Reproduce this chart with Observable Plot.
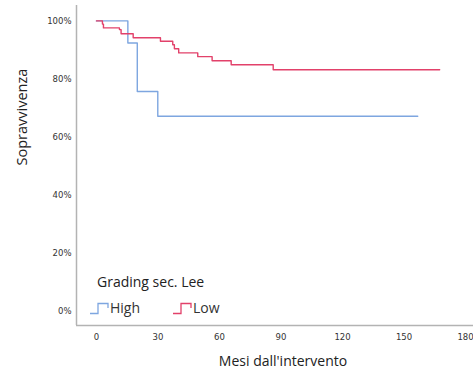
<!DOCTYPE html>
<html>
<head>
<meta charset="utf-8">
<script src="https://cdn.jsdelivr.net/npm/d3@7"></script>
<script src="https://cdn.jsdelivr.net/npm/@observablehq/plot@0.6"></script>
<style>
  html, body { margin: 0; padding: 0; background: #fff; }
  #wrap { position: relative; width: 473px; height: 379px; overflow: hidden; }
  #legend { position: absolute; left: 0; top: 0; font-family: "Open Sans", sans-serif; color: #222; }
</style>
</head>
<body>
<div id="wrap"></div>
<script>
// Data (months, survival fraction)
const highTimes = [0, 15.3, 19.9, 29.9, 156.7];
const highSurv  = [1, 0.924, 0.757, 0.672, 0.672];
const lowTimes  = [0, 2.9, 3.4, 11.2, 12.0, 17.9, 31.2, 37.2, 38.0, 40.1, 49.4, 56.4, 65.7, 86.2, 167.4];
const lowSurv   = [1, 0.989, 0.976, 0.970, 0.956, 0.942, 0.930, 0.918, 0.904, 0.890, 0.877, 0.863, 0.849, 0.832, 0.832];
const groups = ["High", "Low"];
const groupColors = ["#7ea6e0", "#e2416a"];
const xTicks = [0, 30, 60, 90, 120, 150, 180];
const yTicks = [0, 0.2, 0.4, 0.6, 0.8, 1.0];
const xDomain = [-9.75, 183.9];
const yDomain = [-0.048, 1.053];

const rows = [
  ...highTimes.map((t, i) => ({group: "High", t, s: highSurv[i]})),
  ...lowTimes.map((t, i) => ({group: "Low", t, s: lowSurv[i]}))
];

const chart = Plot.plot({
  width: 473,
  height: 379,
  marginLeft: 76,
  marginRight: 0,
  marginTop: 5,
  marginBottom: 54,
  style: {fontFamily: "'DejaVu Sans', sans-serif", fontSize: "8.5px", color: "#333", background: "#fff"},
  x: {domain: xDomain, ticks: xTicks, tickSize: 0, tickPadding: 8, label: null},
  y: {domain: yDomain, ticks: yTicks, tickSize: 0, tickPadding: 5, tickFormat: d3.format(".0%"), label: null},
  color: {domain: groups, range: groupColors},
  marks: [
    Plot.ruleX([xDomain[0]], {stroke: "#b3b3b3", strokeWidth: 1.5}),
    Plot.ruleY([yDomain[0]], {stroke: "#b3b3b3", strokeWidth: 1.5}),
    Plot.line(rows, {x: "t", y: "s", z: "group", stroke: "group", curve: "step-after", strokeWidth: 1.4}),
    Plot.text(["Mesi dall'intervento"], {frameAnchor: "bottom", dx: 8, dy: 40, fontSize: 14, fontFamily: "'Open Sans', sans-serif", fill: "#222"}),
    Plot.text(["Sopravvivenza"], {frameAnchor: "left", dx: -54, dy: 0, rotate: -90, fontSize: 14.5, fontFamily: "'Open Sans', sans-serif", fill: "#222"})
  ]
});
document.getElementById("wrap").appendChild(chart);

// Legend overlay
const legend = document.createElement("div");
legend.id = "legend";
const ns = "http://www.w3.org/2000/svg";
const lsvg = document.createElementNS(ns, "svg");
lsvg.setAttribute("width", 473);
lsvg.setAttribute("height", 379);
const title = document.createElementNS(ns, "text");
title.setAttribute("x", 97);
title.setAttribute("y", 287);
title.setAttribute("font-size", "14px");
title.setAttribute("font-family", "'Open Sans', sans-serif");
title.setAttribute("fill", "#222");
title.textContent = "Grading sec. Lee";
lsvg.appendChild(title);
const itemX = [90, 173];
groups.forEach((g, i) => {
  const x0 = itemX[i];
  const p = document.createElementNS(ns, "path");
  p.setAttribute("d", `M${x0},313.5H${x0+8}V303.5H${x0+18}V308`);
  p.setAttribute("fill", "none");
  p.setAttribute("stroke", groupColors[i]);
  p.setAttribute("stroke-width", 1.3);
  lsvg.appendChild(p);
  const t = document.createElementNS(ns, "text");
  t.setAttribute("x", x0 + 20);
  t.setAttribute("y", 313);
  t.setAttribute("font-size", "14px");
  t.setAttribute("font-family", "'Open Sans', sans-serif");
  t.setAttribute("fill", "#333");
  t.textContent = g;
  lsvg.appendChild(t);
});
legend.appendChild(lsvg);
document.getElementById("wrap").appendChild(legend);
</script>
</body>
</html>
